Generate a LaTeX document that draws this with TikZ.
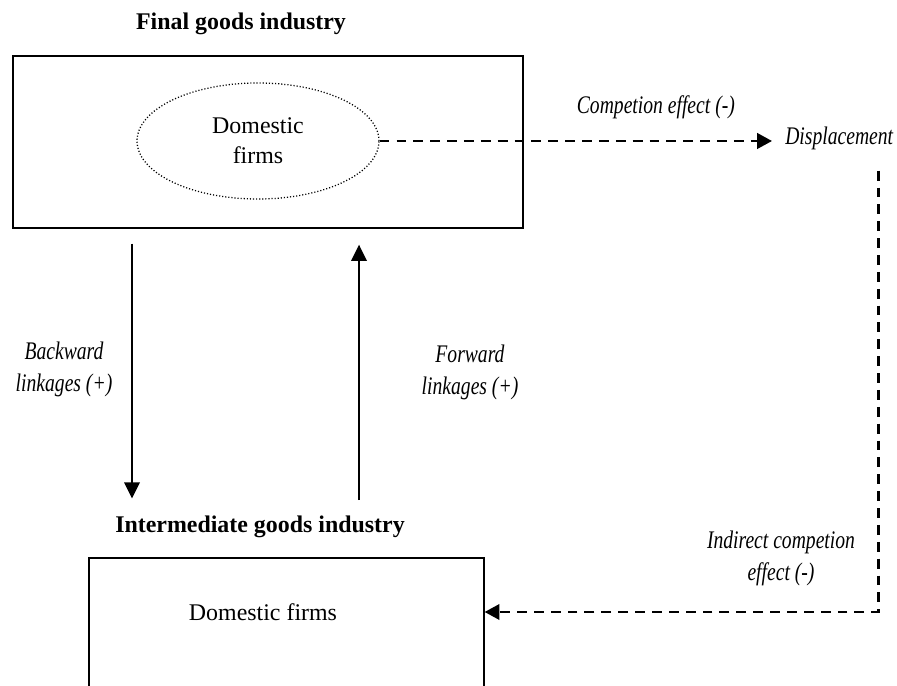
\documentclass[tikz,border=0pt]{standalone}
\usepackage{fontspec}
\setmainfont{Liberation Serif}
\newfontfamily\narrowserif[FakeStretch=0.775]{Liberation Serif}
\usetikzlibrary{arrows.meta,shapes.geometric,calc}

\begin{document}
\begin{tikzpicture}[
  boxnode/.style={draw,line width=1.2pt,inner sep=0pt,anchor=north west},
  heading/.style={font=\fontsize{17}{21}\selectfont\bfseries,inner sep=0pt,anchor=base},
  plaintext/.style={font=\fontsize{17}{21.3}\selectfont,align=center},
  effect/.style={font=\fontsize{18}{22.7}\selectfont\narrowserif\itshape,align=center,inner sep=0pt},
  solarr/.style={line width=1.4pt,-{Triangle[length=11.5pt,width=11pt]}},
  dasharr/.style={line width=1.6pt,dash pattern=on 7pt off 5pt,-{Triangle[length=10.5pt,width=11pt]}}]
\useasboundingbox (0,0) rectangle (22.425,17.15);
% final goods
\node[heading] (ftitle) at (6.025,16.4) {Final goods industry};
\node[boxnode,minimum width=12.75cm,minimum height=4.3cm] (fbox) at (0.3,15.775) {};
\node[plaintext,ellipse,draw,line width=0.9pt,dash pattern=on 0.8pt off 1.4pt,
  minimum width=6.05cm,minimum height=2.9cm,inner sep=0pt] (dfin) at (6.45,13.625) {Domestic\\firms};
\node[effect,anchor=base west] (disp) at (19.625,13.525) {Displacement};
% intermediate goods
\node[heading] (ititle) at (6.5,3.825) {Intermediate goods industry};
\node[boxnode,minimum width=9.875cm,minimum height=4cm] (ibox) at (2.2,3.225) {};
\node[plaintext] (dlow) at (6.575,1.85) {Domestic firms};
% labels
\node[effect] (bklab) at (1.6,7.91) {Backward\\linkages (+)};
\node[effect] (fwlab) at (11.75,7.85) {Forward\\linkages (+)};
\node[effect] (indlab) at (19.525,3.2) {Indirect competion\\effect (-)};
% linkages
\coordinate (bk) at ($(fbox.south west)+(3,0)$);
\coordinate (fw) at ($(fbox.south west)+(8.675,0)$);
\draw[solarr,shorten <=0.375cm,shorten >=0.44cm] (bk) -- (bk |- ititle.north);
\draw[solarr,shorten <=0.4cm,shorten >=0.4cm] (fw |- ititle.north) -- (fw);
% competition
\draw[dasharr] (dfin.east) -- ($(dfin.east -| disp.west)+(-0.325,0)$)
  node[effect,pos=0.704,anchor=base,yshift=0.675cm] {Competion effect (-)};
\draw[dasharr] ($(disp.south east)+(-0.375,-0.5)$) |- (ibox.east |- dlow);
\end{tikzpicture}
\end{document}
